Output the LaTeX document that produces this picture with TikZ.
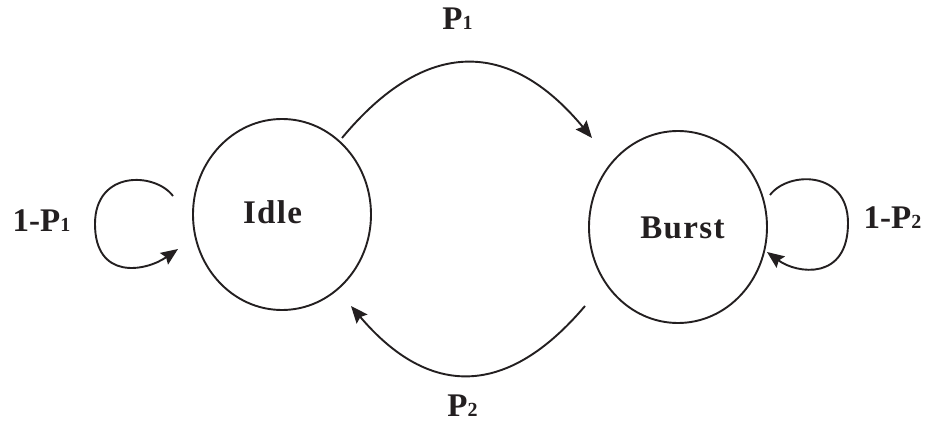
\documentclass[tikz,border=0pt]{standalone}
\usepackage{fontspec}
\setmainfont{Liberation Serif}
\usetikzlibrary{shapes.geometric,arrows.meta}
\definecolor{ink}{HTML}{231F20}
\newcommand\subdigit[1]{{\fontsize{20pt}{20pt}\selectfont #1}}
\tikzset{
  state/.style={draw=ink, ellipse, line width=1.9pt, inner sep=0pt, minimum width=178pt},
  lbl/.style={text=ink, font=\fontsize{33pt}{36pt}\selectfont\bfseries, anchor=base, inner sep=0pt},
  stxt/.style={lbl, font=\fontsize{33pt}{36pt}\selectfont\bfseries\addfontfeatures{LetterSpace=4}},
  edge/.style={draw=ink, line width=1.9pt, -{Stealth[length=17pt,width=14pt,inset=2.5pt]}}
}
\begin{document}
\begin{tikzpicture}[x=1pt,y=-1pt]
\useasboundingbox[fill=white] (0,0) rectangle (927,423);
\node[state, minimum height=191pt] (idle) at (282,214.5) {};
\node[state, minimum height=192pt] (burst) at (678,227) {};
\node[stxt] (idletxt) at (272.5,223) {Idle};
\node[stxt] (bursttxt) at (682.5,238.3) {Burst};
\node[lbl] (p1) at (457.5,29.3) {P\subdigit{1}};
\node[lbl] (p2) at (462.5,416.7) {P\subdigit{2}};
\node[lbl] (q1) at (41.5,231) {1-P\subdigit{1}};
\node[lbl] (q2) at (892.5,228) {1-P\subdigit{2}};
\coordinate (a1s) at (342,138);
\coordinate (a1e) at (592,138);
\coordinate (a2s) at (585,306);
\coordinate (a2e) at (351,306);
\coordinate (l1s) at (173,196);
\coordinate (l1m) at (95,224);
\coordinate (l1e) at (178,249);
\coordinate (l2s) at (770,195);
\coordinate (l2m) at (848,223);
\coordinate (l2e) at (767,252);
\draw[edge] (a1s) .. controls (425,38) and (509,38) .. (a1e);
\draw[edge] (a2s) .. controls (507,398) and (429,398) .. (a2e);
\draw[edge] (l1s) .. controls (155,172) and (95,170) .. (l1m) .. controls (95,280) and (145,272) .. (l1e);
\draw[edge] (l2s) .. controls (788,171) and (848,170) .. (l2m) .. controls (848,281) and (797,274) .. (l2e);
\end{tikzpicture}
\end{document}
